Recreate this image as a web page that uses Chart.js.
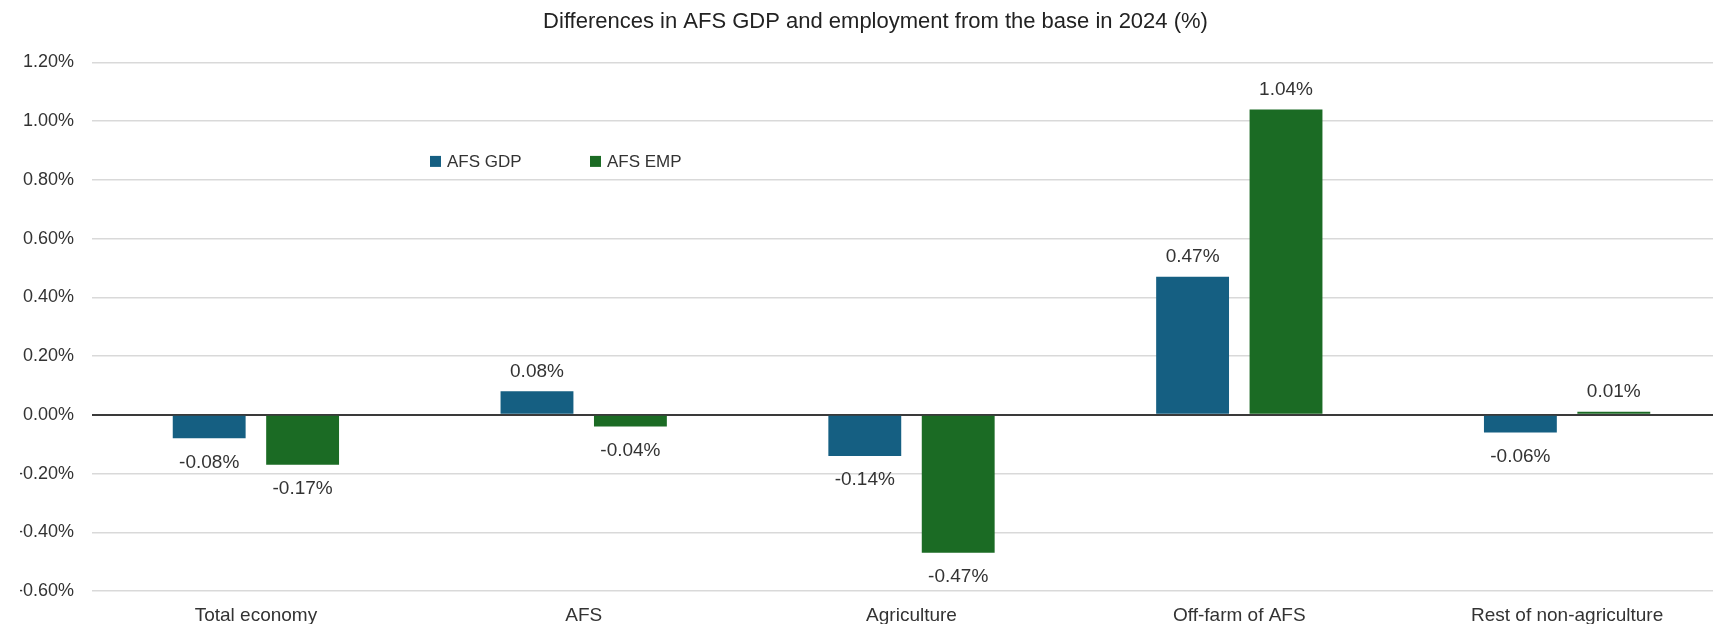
<!DOCTYPE html>
<html>
<head>
<meta charset="utf-8">
<title>Differences in AFS GDP and employment</title>
<script src="https://cdn.jsdelivr.net/npm/chart.js@4.4.1/dist/chart.umd.min.js"></script>
<style>
    html, body { margin: 0; padding: 0; background: #fff; }
    #wrap { width: 1713px; height: 624px; overflow: hidden; position: relative; }
    #afsChart { position: absolute; left: 0; top: 0; }
</style>
</head>
<body>
<div id="wrap">
    <canvas id="afsChart" width="1752" height="652"></canvas>
</div>
<script>
const categories = ["Total economy", "AFS", "Agriculture", "Off-farm of AFS", "Rest of non-agriculture"];
const afsGdp = [-0.08, 0.08, -0.14, 0.47, -0.06];
const afsEmp = [-0.17, -0.04, -0.47, 1.04, 0.01];
const seriesNames = ["AFS GDP", "AFS EMP"];
const yMin = -0.6;
const yMax = 1.2;
const yStep = 0.2;

const textColor = "#333333";
const fontFamily = "'Liberation Sans', Arial, sans-serif";

// legend drawn inside the plot, like the Excel original
const insideLegend = {
    id: "insideLegend",
    afterDraw(chart, args, opts) {
        const ctx = chart.ctx;
        const area = chart.chartArea;
        let x = area.left + opts.offsetX;
        const y = area.top + opts.offsetY;
        ctx.save();
        ctx.font = "17px " + fontFamily;
        ctx.textBaseline = "middle";
        ctx.textAlign = "left";
        chart.data.datasets.forEach(ds => {
            ctx.fillStyle = ds.backgroundColor;
            ctx.fillRect(x, y - 5.5, 11, 11);
            ctx.fillStyle = textColor;
            ctx.fillText(ds.label, x + 17, y + 1);
            x += opts.spacing;
        });
        ctx.restore();
    }
};

// value labels above / below each bar
const barLabels = {
    id: "barLabels",
    afterDatasetsDraw(chart) {
        const ctx = chart.ctx;
        ctx.save();
        ctx.font = "19px " + fontFamily;
        ctx.fillStyle = textColor;
        ctx.textAlign = "center";
        ctx.textBaseline = "middle";
        chart.data.datasets.forEach((ds, i) => {
            const meta = chart.getDatasetMeta(i);
            meta.data.forEach((bar, j) => {
                const v = ds.data[j];
                const y = v >= 0 ? bar.y - 20 : bar.y + 24;
                ctx.fillText(v.toFixed(2) + "%", bar.x, y);
            });
        });
        ctx.restore();
    }
};

const ctx = document.getElementById("afsChart").getContext("2d");

new Chart(ctx, {
    type: "bar",
    data: {
        labels: categories,
        datasets: [
            {
                label: seriesNames[0],
                data: afsGdp,
                backgroundColor: "#155F82",
                categoryPercentage: 0.57,
                barPercentage: 0.78
            },
            {
                label: seriesNames[1],
                data: afsEmp,
                backgroundColor: "#1B6B24",
                categoryPercentage: 0.57,
                barPercentage: 0.78
            }
        ]
    },
    options: {
        responsive: false,
        animation: false,
        layout: {
            padding: { left: 20, right: 21, top: 0, bottom: 0 }
        },
        plugins: {
            legend: { display: false },
            tooltip: { enabled: false },
            title: {
                display: true,
                text: "Differences in AFS GDP and employment from the base in 2024 (%)",
                color: "#222222",
                font: { family: fontFamily, size: 22, weight: "normal" },
                padding: { top: 9, bottom: 27 }
            },
            insideLegend: { offsetX: 338, offsetY: 99, spacing: 160 }
        },
        scales: {
            x: {
                grid: { display: false, drawTicks: false },
                border: { display: false },
                ticks: {
                    color: textColor,
                    font: { family: fontFamily, size: 19 },
                    padding: 13,
                    maxRotation: 0
                },
                afterFit(scale) { scale.height = 61; }
            },
            y: {
                min: yMin,
                max: yMax,
                border: { display: false },
                grid: {
                    drawTicks: false,
                    color: c => Math.abs(c.tick.value) < 1e-9 ? "#3A3A3A" : "#D9D9D9",
                    lineWidth: c => Math.abs(c.tick.value) < 1e-9 ? 2 : 1.5
                },
                ticks: {
                    stepSize: yStep,
                    color: textColor,
                    font: { family: fontFamily, size: 18 },
                    padding: 18,
                    callback: v => v.toFixed(2) + "%"
                },
                afterFit(scale) { scale.width = 72; }
            }
        }
    },
    plugins: [insideLegend, barLabels]
});
</script>
</body>
</html>
